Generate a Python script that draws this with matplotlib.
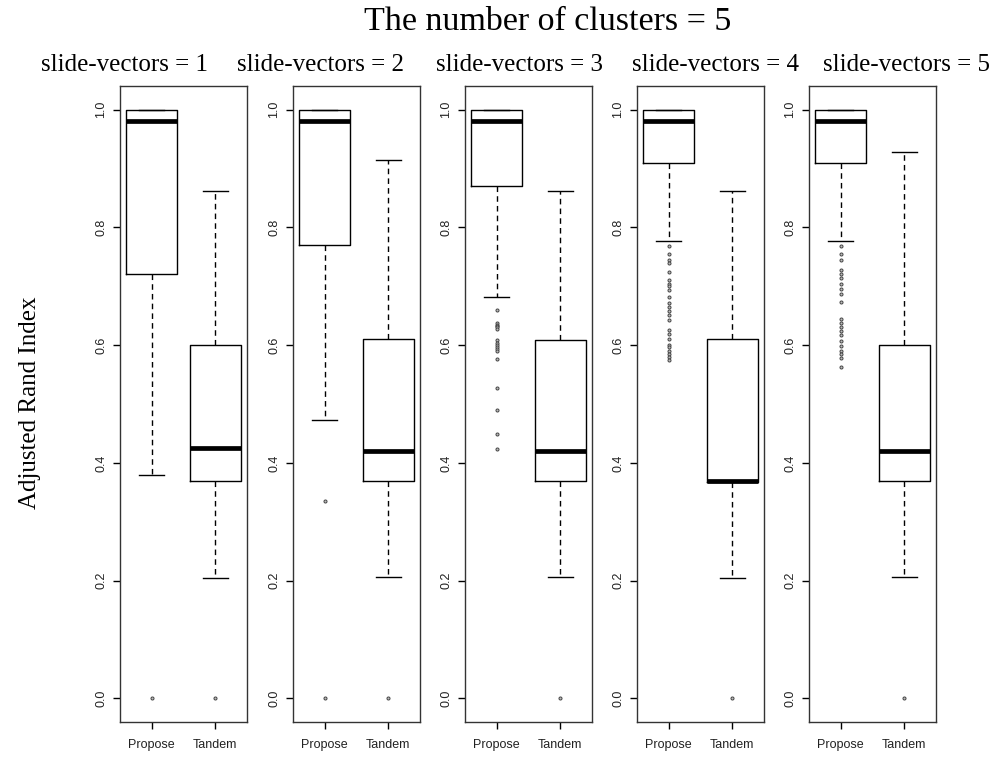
import matplotlib
matplotlib.use("Agg")
import matplotlib.pyplot as plt

# ---------------- data ----------------
panel_titles = ["slide-vectors = 1", "slide-vectors = 2", "slide-vectors = 3",
                "slide-vectors = 4", "slide-vectors = 5"]
groups = ["Propose", "Tandem"]
main_title = "The number of clusters = 5"
ylabel = "Adjusted Rand Index"

# Propose box statistics per panel
prop_whislo = [0.380, 0.472, 0.682, 0.777, 0.777]
prop_q1 = [0.720, 0.770, 0.870, 0.910, 0.910]
prop_med = [0.980, 0.980, 0.980, 0.980, 0.980]
prop_q3 = [1.000, 1.000, 1.000, 1.000, 1.000]
prop_whishi = [1.000, 1.000, 1.000, 1.000, 1.000]

# Tandem box statistics per panel
tand_whislo = [0.205, 0.207, 0.207, 0.205, 0.207]
tand_q1 = [0.370, 0.370, 0.369, 0.368, 0.370]
tand_med = [0.425, 0.420, 0.420, 0.370, 0.420]
tand_q3 = [0.600, 0.610, 0.608, 0.610, 0.600]
tand_whishi = [0.862, 0.915, 0.862, 0.862, 0.928]

prop_fliers_1 = [0.0]
prop_fliers_2 = [0.335, 0.0]
prop_fliers_3 = [0.659, 0.638, 0.635, 0.632, 0.630, 0.627, 0.608, 0.604, 0.600,
                 0.597, 0.594, 0.590, 0.576, 0.527, 0.490, 0.449, 0.424]
prop_fliers_4 = [0.768, 0.755, 0.745, 0.740, 0.724, 0.711, 0.703, 0.700, 0.693,
                 0.681, 0.672, 0.664, 0.658, 0.651, 0.643, 0.625, 0.619, 0.610,
                 0.601, 0.597, 0.590, 0.585, 0.580, 0.575]
prop_fliers_5 = [0.768, 0.755, 0.745, 0.727, 0.720, 0.714, 0.703, 0.695, 0.686,
                 0.673, 0.645, 0.638, 0.630, 0.624, 0.618, 0.607, 0.598, 0.590,
                 0.585, 0.578, 0.563]
prop_fliers = [prop_fliers_1, prop_fliers_2, prop_fliers_3, prop_fliers_4, prop_fliers_5]
tand_fliers = [[0.0], [0.0], [0.0], [0.0], [0.0]]

yticks = [0.0, 0.2, 0.4, 0.6, 0.8, 1.0]
ytick_labels = ["0.0", "0.2", "0.4", "0.6", "0.8", "1.0"]

# ---------------- figure ----------------
W, H = 996, 758
fig = plt.figure(figsize=(W / 100, H / 100), dpi=100)

panel_left_px = [120, 293, 465, 637, 809]
panel_w_px = 127
top_px, bottom_px = 86, 722
title_centers_px = [124, 320, 519, 715, 906]

serif = ["Liberation Serif", "DejaVu Serif"]
sans = ["Liberation Sans", "DejaVu Sans"]

for i in range(5):
    ax = fig.add_axes([panel_left_px[i] / W, 1 - bottom_px / H,
                       panel_w_px / W, (bottom_px - top_px) / H])
    stats = [
        dict(med=prop_med[i], q1=prop_q1[i], q3=prop_q3[i],
             whislo=prop_whislo[i], whishi=prop_whishi[i], fliers=prop_fliers[i]),
        dict(med=tand_med[i], q1=tand_q1[i], q3=tand_q3[i],
             whislo=tand_whislo[i], whishi=tand_whishi[i], fliers=tand_fliers[i]),
    ]
    ax.bxp(stats, positions=[1, 2], widths=0.8, capwidths=0.4,
           showfliers=True, patch_artist=False,
           boxprops=dict(color="black", linewidth=1.0),
           medianprops=dict(color="black", linewidth=3.4, solid_capstyle="butt"),
           whiskerprops=dict(color="black", linewidth=1.0, linestyle=(0, (4, 3))),
           capprops=dict(color="black", linewidth=1.0),
           flierprops=dict(marker="o", markersize=2.2, markerfacecolor="#bbbbbb",
                           markeredgecolor="#444444", markeredgewidth=0.7,
                           linestyle="none"))
    ax.set_xlim(0.5, 2.5)
    ax.set_ylim(-0.04, 1.04)
    ax.set_xticks([1, 2])
    ax.set_xticklabels(groups, family=sans, fontsize=9)
    ax.set_yticks(yticks)
    ax.set_yticklabels(ytick_labels, family=sans, fontsize=9, rotation=90,
                       va="center")
    ax.tick_params(axis="both", direction="out", length=5, width=1.0,
                   color="black", labelcolor="#222222")
    ax.tick_params(axis="y", pad=4)
    ax.tick_params(axis="x", pad=7)
    for sp in ax.spines.values():
        sp.set_linewidth(1.0)
        sp.set_color("#333333")
    fig.text(title_centers_px[i] / W, 1 - 65 / H, panel_titles[i],
             family=serif, fontsize=18, ha="center", va="center")

fig.text(548 / W, 1 - 22 / H, main_title, family=serif, fontsize=24.5,
         ha="center", va="center")
fig.text(30 / W, 1 - 403 / H, ylabel, family=serif, fontsize=18,
         rotation=90, ha="center", va="center")

fig.savefig("out.png", dpi=100)
